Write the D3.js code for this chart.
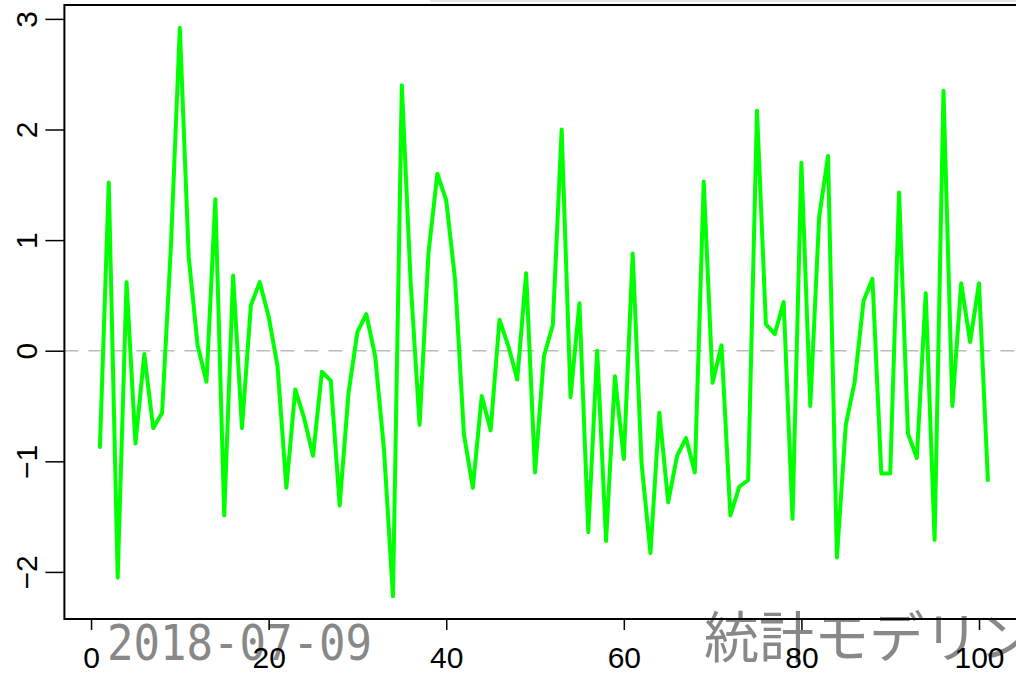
<!DOCTYPE html>
<html>
<head>
<meta charset="utf-8">
<script src="https://cdn.jsdelivr.net/npm/d3@7"></script>
<style>
    body { margin: 0; background: #fff; overflow: hidden; }
    svg { display: block; }
    .tick text { font-family: "Liberation Sans", Arial, sans-serif; font-size: 30px; fill: #000; }
    .tick line { stroke: #000; stroke-width: 1.5; }
</style>
</head>
<body>
<script>
    // series values, index 1..101
    const values = [
        -0.87, 1.52, -2.05, 0.62, -0.84, -0.03, -0.70, -0.56, 0.95, 2.92,
        0.85, 0.05, -0.28, 1.37, -1.49, 0.68, -0.70, 0.41, 0.62, 0.31,
        -0.14, -1.24, -0.35, -0.61, -0.95, -0.19, -0.27, -1.40, -0.38, 0.17,
        0.33, -0.05, -0.90, -2.22, 2.40, 0.61, -0.67, 0.88, 1.60, 1.36,
        0.64, -0.76, -1.24, -0.41, -0.72, 0.28, 0.04, -0.26, 0.70, -1.10,
        -0.05, 0.23, 2.00, -0.42, 0.43, -1.64, 0.00, -1.72, -0.23, -0.98,
        0.88, -1.02, -1.83, -0.56, -1.37, -0.95, -0.79, -1.10, 1.53, -0.29,
        0.05, -1.49, -1.23, -1.17, 2.17, 0.24, 0.15, 0.44, -1.52, 1.70,
        -0.50, 1.21, 1.76, -1.87, -0.67, -0.28, 0.45, 0.65, -1.11, -1.11,
        1.43, -0.75, -0.97, 0.52, -1.71, 2.35, -0.50, 0.61, 0.08, 0.61,
        -1.17
    ];
    const xTicks = [0, 20, 40, 60, 80, 100];
    const yTicks = [-2, -1, 0, 1, 2, 3];
    const refLine = [0];
    const dateLabel = "2018-07-09";
    const siteLabel = "統計モデリング";

    const W = 1016, H = 675;
    const plot = { left: 64.4, right: 1023.4, top: 5, bottom: 619 };

    const svg = d3.select('body').append('svg')
        .attr('width', W)
        .attr('height', H);

    // R style: data range padded by 4% on each side
    const n = values.length;
    const [vMin, vMax] = d3.extent(values);
    const xPad = (n - 1) * 0.04, yPad = (vMax - vMin) * 0.04;

    const x = d3.scaleLinear()
        .domain([1 - xPad, n + xPad])
        .range([plot.left, plot.right]);
    const y = d3.scaleLinear()
        .domain([vMin - yPad, vMax + yPad])
        .range([plot.bottom, plot.top]);

    // faint window edge at the very top
    svg.append('rect')
        .attr('x', 430).attr('y', 0)
        .attr('width', W - 430).attr('height', 2)
        .attr('fill', '#e6e6e6');

    // watermark texts sit under everything else
    svg.append('text')
        .attr('x', 107)
        .attr('y', 660)
        .attr('textLength', 265)
        .attr('lengthAdjust', 'spacingAndGlyphs')
        .style('font-family', '"DejaVu Sans Mono", monospace')
        .style('font-size', '50px')
        .style('fill', '#888')
        .text(dateLabel);

    svg.append('text')
        .attr('x', 704)
        .attr('y', 657)
        .style('font-family', '"Noto Sans CJK JP", sans-serif')
        .style('font-size', '55px')
        .style('fill', '#888')
        .text(siteLabel);

    // zero reference line
    svg.selectAll('line.ref').data(refLine)
        .enter().append('line')
        .attr('class', 'ref')
        .attr('x1', plot.left).attr('x2', plot.right)
        .attr('y1', d => y(d)).attr('y2', d => y(d))
        .attr('stroke', '#bbb')
        .attr('stroke-width', 1.5)
        .attr('stroke-dasharray', '14,10');

    const line = d3.line()
        .x((d, i) => x(i + 1))
        .y(d => y(d));

    svg.append('path')
        .datum(values)
        .attr('d', line)
        .attr('fill', 'none')
        .attr('stroke', '#00ff00')
        .attr('stroke-width', 4)
        .attr('stroke-linejoin', 'round')
        .attr('stroke-linecap', 'round');

    // axes
    const xAxis = svg.append('g')
        .attr('transform', `translate(0, ${plot.bottom})`)
        .call(d3.axisBottom(x).tickValues(xTicks).tickFormat(d3.format('d'))
            .tickSize(11).tickPadding(2).tickSizeOuter(0));
    xAxis.select('.domain').remove();
    xAxis.selectAll('.tick text').attr('dy', '1.2em');

    const yAxis = svg.append('g')
        .attr('transform', `translate(${plot.left}, 0)`)
        .call(d3.axisLeft(y).tickValues(yTicks).tickFormat(d3.format('d'))
            .tickSize(19).tickSizeOuter(0));
    yAxis.select('.domain').remove();
    yAxis.selectAll('.tick text')
        .attr('transform', 'rotate(-90)')
        .attr('text-anchor', 'middle')
        .attr('x', 0)
        .attr('y', -27)
        .attr('dy', 0);

    // plot box
    svg.append('rect')
        .attr('x', plot.left).attr('y', plot.top)
        .attr('width', plot.right - plot.left)
        .attr('height', plot.bottom - plot.top)
        .attr('fill', 'none')
        .attr('stroke', '#000')
        .attr('stroke-width', 2);
</script>
</body>
</html>
